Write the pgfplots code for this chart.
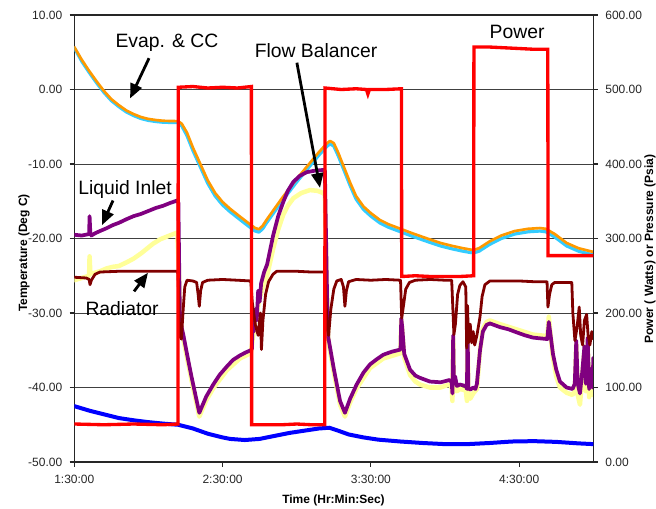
\documentclass[border=0pt]{standalone}
\usepackage{fontspec}
\setmainfont{Liberation Sans}
\usepackage{pgfplots}
\pgfplotsset{compat=1.18}
\usetikzlibrary{arrows.meta}
\definecolor{xorange}{HTML}{FF9900}
\definecolor{xcyan}{HTML}{33CCFF}
\definecolor{xpurple}{HTML}{800080}
\definecolor{xyellow}{HTML}{FFFF99}
\definecolor{xbrown}{HTML}{800000}
\definecolor{xred}{HTML}{FF0000}
\definecolor{xblue}{HTML}{0000FF}
\begin{document}
\begin{tikzpicture}[x=0.75pt,y=0.75pt]
\useasboundingbox (0,0) rectangle (656,508);
\pgfplotsset{every axis/.append style={scale only axis, width=389.25pt, height=335.25pt,
  at={(55.725pt,34.5pt)}, anchor=south west, xmin=1.5, xmax=5,
  tick align=outside, major tick length=3.5pt,
  axis line style={black!85, line width=0.9pt},
  tick style={black!85, line width=0.8pt},
  ticklabel style={font=\fontsize{9}{10}\selectfont, text=black!85},
  every axis plot/.append style={line join=round, line cap=round}}}
\begin{axis}[ymin=-50, ymax=10,
  ytick={-50,-40,-30,-20,-10,0,10},
  yticklabels={-50.00,-40.00,-30.00,-20.00,-10.00,0.00,10.00},
  xtick={1.5,2.5,3.5,4.5},
  xticklabels={1:30:00,2:30:00,3:30:00,4:30:00},
  xtick pos=bottom, ytick pos=left,
  yticklabel style={xshift=-2pt},
  xticklabel style={yshift=-3pt},
  ymajorgrids, grid style={black!75, line width=0.6pt}]
% CC (cyan)
\addplot[xcyan, line width=2.4pt] coordinates {
(1.50,5.6)(1.55,3.8)(1.60,2.3)(1.65,0.9)(1.70,-0.4)(1.75,-1.5)(1.80,-2.3)(1.85,-3.0)(1.90,-3.5)(1.95,-3.9)(2.00,-4.15)(2.05,-4.3)(2.10,-4.4)(2.20,-4.45)(2.225,-4.9)(2.26,-6.2)(2.30,-8.2)(2.35,-10.4)(2.40,-12.6)(2.45,-14.3)(2.50,-15.5)(2.55,-16.4)(2.62,-17.5)(2.685,-18.5)(2.72,-19.0)(2.745,-19.15)(2.77,-18.7)(2.80,-17.8)(2.85,-16.4)(2.90,-15.0)(2.95,-13.7)(3.00,-12.4)(3.05,-11.2)(3.10,-10.0)(3.15,-8.8)(3.20,-7.7)(3.224,-7.3)(3.25,-7.6)(3.28,-8.9)(3.32,-10.9)(3.36,-12.9)(3.40,-14.7)(3.45,-16.1)(3.50,-17.0)(3.56,-17.9)(3.62,-18.5)(3.70,-19.1)(3.78,-19.7)(3.88,-20.4)(3.97,-21.0)(4.05,-21.4)(4.12,-21.7)(4.19,-21.95)(4.23,-21.7)(4.30,-20.8)(4.38,-20.0)(4.47,-19.4)(4.56,-19.1)(4.64,-19.0)(4.68,-19.1)(4.74,-19.8)(4.82,-21.0)(4.90,-21.7)(5.00,-22.2)};
% Evap (orange)
\addplot[xorange, line width=2.0pt] coordinates {
(1.50,5.7)(1.55,4.0)(1.60,2.5)(1.65,1.1)(1.70,-0.2)(1.75,-1.3)(1.80,-2.1)(1.85,-2.8)(1.90,-3.3)(1.95,-3.7)(2.00,-3.95)(2.05,-4.1)(2.10,-4.2)(2.20,-4.25)(2.225,-4.6)(2.26,-5.8)(2.30,-7.8)(2.35,-10.0)(2.40,-12.2)(2.45,-13.9)(2.50,-15.1)(2.55,-16.0)(2.62,-17.1)(2.685,-18.1)(2.72,-18.6)(2.745,-18.75)(2.77,-18.3)(2.80,-17.4)(2.85,-16.0)(2.90,-14.6)(2.95,-13.3)(3.00,-12.0)(3.05,-10.8)(3.10,-9.6)(3.15,-8.4)(3.20,-7.3)(3.224,-6.9)(3.25,-7.2)(3.28,-8.5)(3.32,-10.5)(3.36,-12.5)(3.40,-14.3)(3.45,-15.7)(3.50,-16.6)(3.56,-17.5)(3.62,-18.1)(3.70,-18.7)(3.78,-19.3)(3.88,-20.0)(3.97,-20.6)(4.05,-21.0)(4.12,-21.3)(4.19,-21.55)(4.23,-21.3)(4.30,-20.4)(4.38,-19.6)(4.47,-19.0)(4.56,-18.7)(4.64,-18.6)(4.68,-18.7)(4.74,-19.4)(4.82,-20.6)(4.90,-21.3)(5.00,-21.8)};
% Flow balancer (yellow)
\addplot[xyellow, line width=3.4pt] coordinates {
(1.50,-25.6)(1.55,-25.3)(1.60,-25.0)(1.603,-22.4)(1.608,-24.6)(1.62,-24.7)(1.673,-24.4)(1.72,-24.0)(1.76,-23.8)(1.80,-23.7)(1.853,-23.2)(1.90,-22.7)(1.95,-22.0)(2.00,-21.2)(2.031,-20.7)(2.08,-20.1)(2.13,-19.7)(2.195,-19.2)(2.205,-24)(2.213,-31.5)(2.235,-33.5)(2.29,-39)(2.343,-43.9)(2.39,-41.7)(2.437,-40.1)(2.528,-37.7)(2.617,-36.1)(2.69,-35.4)(2.70,-34)(2.72,-31)(2.75,-28)(2.78,-26)(2.80,-25)(2.842,-21.3)(2.875,-18.8)(2.909,-16.8)(2.94,-15.6)(2.977,-14.6)(3.03,-13.9)(3.089,-13.5)(3.14,-13.6)(3.179,-13.9)(3.19,-14.2)(3.198,-22)(3.213,-33.8)(3.25,-38)(3.292,-42.3)(3.325,-43.9)(3.36,-42)(3.404,-40.1)(3.494,-37.4)(3.584,-36.1)(3.70,-35.4)(3.705,-31)(3.712,-32.5)(3.725,-36)(3.764,-38.3)(3.80,-39.2)(3.831,-39.6)(3.898,-40.0)(3.97,-40.0)(4.03,-39.6)(4.045,-40)(4.05,-41.8)(4.055,-33.5)(4.06,-40.5)(4.068,-39.5)(4.08,-40.5)(4.10,-40.2)(4.14,-40.4)(4.148,-41.8)(4.152,-32)(4.157,-41)(4.17,-41.5)(4.19,-40.8)(4.215,-40.2)(4.236,-35)(4.255,-32.1)(4.28,-31.2)(4.303,-31.0)(4.371,-31.5)(4.483,-32.2)(4.593,-32.9)(4.69,-33.1)(4.70,-30.5)(4.712,-33)(4.728,-36)(4.75,-38.5)(4.775,-40)(4.82,-40.7)(4.86,-41.0)(4.875,-40.5)(4.885,-34.2)(4.895,-41)(4.91,-42.3)(4.925,-38.5)(4.94,-35)(4.95,-40.5)(4.962,-34)(4.972,-41.3)(4.985,-38)(4.995,-41)(5.0,-37)};
% Liquid inlet (purple)
\addplot[xpurple, line width=2.8pt] coordinates {
(1.50,-19.5)(1.55,-19.6)(1.60,-19.4)(1.603,-17.0)(1.608,-19.2)(1.615,-19.6)(1.64,-19.3)(1.673,-19.0)(1.72,-18.6)(1.76,-18.2)(1.80,-17.9)(1.853,-17.4)(1.90,-17.0)(1.95,-16.7)(2.00,-16.3)(2.05,-15.9)(2.10,-15.6)(2.15,-15.2)(2.195,-14.9)(2.202,-15.2)(2.208,-25)(2.213,-31)(2.235,-32.9)(2.26,-35.5)(2.29,-38.5)(2.32,-41.3)(2.343,-43.4)(2.36,-42.6)(2.39,-41.2)(2.437,-39.6)(2.48,-38.3)(2.528,-37.2)(2.57,-36.3)(2.617,-35.7)(2.655,-35.3)(2.69,-35.0)(2.698,-34.8)(2.702,-31)(2.71,-32.5)(2.72,-29.5)(2.73,-31)(2.74,-27)(2.75,-28.5)(2.76,-26)(2.78,-24.5)(2.80,-23.5)(2.842,-19.5)(2.875,-17.0)(2.909,-15.1)(2.94,-13.6)(2.977,-12.4)(3.02,-11.6)(3.067,-11.1)(3.12,-10.9)(3.179,-10.8)(3.19,-10.9)(3.196,-18)(3.205,-28)(3.213,-33.3)(3.25,-37.5)(3.292,-41.8)(3.325,-43.4)(3.36,-41.5)(3.404,-39.6)(3.45,-38.0)(3.494,-36.9)(3.54,-36.2)(3.584,-35.6)(3.64,-35.2)(3.70,-34.9)(3.705,-30.7)(3.712,-32)(3.725,-35.5)(3.764,-37.6)(3.80,-38.4)(3.831,-38.7)(3.898,-39.2)(3.97,-39.3)(4.03,-39.0)(4.045,-39.3)(4.05,-40.8)(4.055,-33)(4.06,-39.5)(4.068,-38.5)(4.08,-39.8)(4.10,-39.6)(4.14,-39.8)(4.148,-40.2)(4.152,-31.5)(4.157,-40)(4.17,-40.3)(4.19,-40.0)(4.205,-40.2)(4.215,-39.5)(4.236,-35)(4.255,-32.5)(4.28,-31.6)(4.303,-31.4)(4.371,-31.9)(4.43,-32.2)(4.483,-32.6)(4.54,-33.0)(4.593,-33.3)(4.64,-33.4)(4.69,-33.5)(4.70,-31.2)(4.712,-33)(4.728,-35.5)(4.75,-37.6)(4.775,-39.2)(4.82,-40.0)(4.86,-40.2)(4.875,-39.5)(4.885,-33.7)(4.895,-39.5)(4.91,-40.8)(4.925,-38)(4.94,-34.5)(4.95,-39.5)(4.962,-33.3)(4.972,-40.2)(4.985,-37.5)(4.995,-40)(5.0,-36)};
% Radiator (brown)
\addplot[xbrown, line width=2.1pt] coordinates {
(1.50,-25.2)(1.58,-25.3)(1.60,-25.5)(1.606,-26.2)(1.615,-25.6)(1.64,-24.8)(1.673,-24.5)(1.80,-24.4)(2.00,-24.4)(2.198,-24.4)(2.203,-27)(2.21,-33)(2.222,-33.5)(2.235,-29.3)(2.245,-26.5)(2.26,-25.6)(2.30,-25.7)(2.325,-25.9)(2.335,-27.5)(2.343,-29.1)(2.352,-27)(2.365,-25.9)(2.40,-25.6)(2.50,-25.5)(2.60,-25.6)(2.69,-25.7)(2.70,-28.5)(2.72,-31.5)(2.74,-33)(2.755,-30)(2.762,-34.9)(2.772,-31)(2.79,-27.5)(2.81,-25.8)(2.84,-24.8)(2.865,-24.4)(3.00,-24.4)(3.10,-24.5)(3.188,-24.5)(3.195,-27)(3.205,-32)(3.215,-33)(3.23,-29.5)(3.25,-26.8)(3.27,-25.7)(3.30,-25.5)(3.315,-26.5)(3.325,-29.1)(3.335,-27)(3.35,-25.8)(3.40,-25.5)(3.50,-25.6)(3.60,-25.5)(3.70,-25.6)(3.708,-30.7)(3.72,-29)(3.735,-26.8)(3.76,-25.9)(3.80,-25.6)(3.90,-25.5)(4.00,-25.6)(4.045,-25.6)(4.052,-29)(4.06,-32.9)(4.07,-31.5)(4.085,-27.5)(4.10,-26.3)(4.121,-25.8)(4.14,-26.5)(4.146,-34.7)(4.152,-29)(4.158,-34)(4.17,-31.5)(4.18,-34)(4.19,-32.5)(4.20,-34.3)(4.215,-33)(4.236,-30.5)(4.25,-27.8)(4.269,-26.2)(4.303,-25.7)(4.40,-25.7)(4.50,-25.7)(4.60,-25.8)(4.688,-25.8)(4.694,-29.2)(4.705,-27.5)(4.72,-26.2)(4.74,-25.9)(4.80,-25.9)(4.855,-25.9)(4.862,-30)(4.876,-33.7)(4.89,-32)(4.905,-29.2)(4.915,-33)(4.928,-34.3)(4.94,-31)(4.955,-30.2)(4.965,-33)(4.977,-34.3)(4.99,-32.5)(5.0,-33.5)};
% annotations
\begin{scope}[font=\fontsize{14.5}{16}\selectfont]
\node at (axis cs:2.125,6.3) {Evap. \& CC};
\node at (axis cs:3.13,5.2) {Flow Balancer};
\node at (axis cs:4.486,7.7) {Power};
\node at (axis cs:1.842,-13.4) {Liquid Inlet};
\node at (axis cs:1.822,-29.4) {Radiator};
\end{scope}
\begin{scope}[line width=2.1pt, -{Triangle[length=11pt,width=9pt]}]
\draw (axis cs:2.004,4.2) -- (axis cs:1.876,-1.2);
\draw (axis cs:3.001,3.6) -- (axis cs:3.157,-13.2);
\draw (axis cs:1.761,-14.9) -- (axis cs:1.687,-18.2);
\draw (axis cs:1.903,-27.1) -- (axis cs:1.997,-24.6);
\end{scope}
\end{axis}
\begin{axis}[ymin=0, ymax=600, axis y line*=right, axis x line=none,
  ytick={0,100,200,300,400,500,600},
  yticklabels={0.00,100.00,200.00,300.00,400.00,500.00,600.00},
  yticklabel style={xshift=2pt}]
% Pressure (blue)
\addplot[xblue, line width=3.0pt] coordinates {
(1.50,75)(1.55,72)(1.60,69)(1.70,64)(1.80,59)(1.90,56)(2.00,53.5)(2.10,51.5)(2.20,50)(2.30,45)(2.40,38)(2.50,33)(2.55,31)(2.65,29.5)(2.75,31)(2.85,35)(2.95,39)(3.05,42)(3.15,45)(3.22,46)(3.28,42)(3.35,37)(3.45,33)(3.55,30)(3.70,27.5)(3.85,25.5)(4.00,24)(4.15,24)(4.30,25.5)(4.45,27.5)(4.60,28)(4.75,27)(4.90,25)(5.00,24)};
% Power (red)
\addplot[xred, line width=2.5pt, line cap=butt, line join=miter] coordinates {
(1.50,51)(1.70,50)(1.90,51)(2.10,50)(2.199,51)(2.201,503)(2.30,504)(2.40,502)(2.50,503)(2.60,502)(2.694,504)(2.696,50)(2.80,50)(2.90,50)(3.00,51)(3.10,50)(3.189,50)(3.191,502)(3.30,500)(3.40,501)(3.47,500)(3.48,494)(3.49,500)(3.60,500)(3.706,501)(3.708,249)(3.80,250)(3.90,249)(4.00,249)(4.10,249)(4.193,250)(4.195,557)(4.30,557)(4.40,556)(4.50,555)(4.60,554)(4.693,554)(4.695,277)(4.80,277)(4.90,277)(5.00,277)};
\end{axis}
\node[rotate=90, font=\bfseries\fontsize{9}{10}\selectfont] at (24,255) {Temperature (Deg C)};
\node[rotate=90, font=\bfseries\fontsize{9}{10}\selectfont] at (650,259) {Power ( Watts) or Pressure (Psia)};
\node[font=\bfseries\fontsize{9}{10}\selectfont] at (333.5,7.5) {Time (Hr:Min:Sec)};
\end{tikzpicture}
\end{document}
